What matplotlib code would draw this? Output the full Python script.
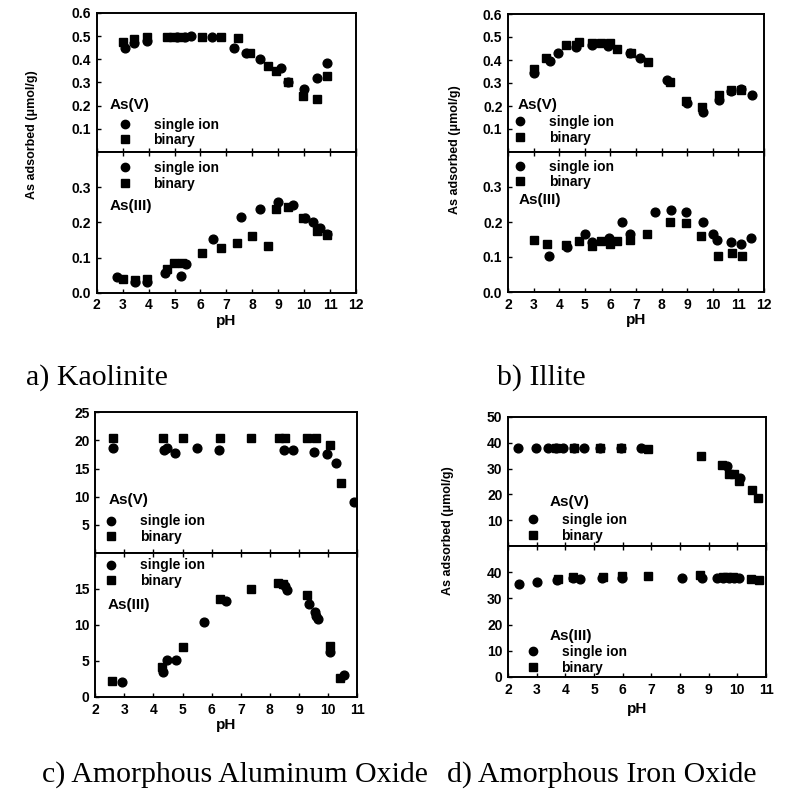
import matplotlib
matplotlib.use("Agg")
import matplotlib.pyplot as plt
from matplotlib.lines import Line2D

plt.rcParams['font.family'] = 'Liberation Sans'
plt.rcParams['font.weight'] = 'bold'
plt.rcParams['font.size'] = 10

# ---- a) Kaolinite ----
KAO_V_SI_PH = [3.07, 3.42, 3.93, 5.1, 5.4, 5.62, 6.45, 7.28, 7.77, 8.29, 9.09, 9.36, 10.0, 10.48, 10.89]
KAO_V_SI = [0.45, 0.471, 0.478, 0.497, 0.497, 0.498, 0.497, 0.449, 0.428, 0.399, 0.362, 0.301, 0.272, 0.32, 0.384]
KAO_V_BI_PH = [3.0, 3.42, 3.93, 4.7, 4.95, 5.25, 6.05, 6.8, 7.43, 7.9, 8.6, 8.93, 9.36, 9.94, 10.48, 10.87]
KAO_V_BI = [0.475, 0.487, 0.494, 0.497, 0.497, 0.497, 0.497, 0.497, 0.49, 0.428, 0.37, 0.348, 0.3, 0.243, 0.229, 0.326]

KAO_III_SI_PH = [2.77, 3.46, 3.93, 4.65, 5.26, 5.45, 6.48, 7.58, 8.29, 8.99, 9.58, 10.03, 10.35, 10.6, 10.87]
KAO_III_SI = [0.044, 0.030, 0.030, 0.057, 0.047, 0.082, 0.153, 0.216, 0.237, 0.257, 0.25, 0.213, 0.2, 0.184, 0.166]
KAO_III_BI_PH = [3.0, 3.46, 3.93, 4.71, 4.96, 5.3, 6.07, 6.8, 7.41, 7.99, 8.61, 8.93, 9.36, 9.96, 10.48, 10.87]
KAO_III_BI = [0.04, 0.035, 0.038, 0.068, 0.085, 0.085, 0.114, 0.128, 0.142, 0.161, 0.132, 0.237, 0.244, 0.213, 0.175, 0.163]

# ---- b) Illite ----
ILL_V_SI_PH = [3.0, 3.64, 3.94, 4.65, 5.27, 5.92, 6.78, 7.17, 8.21, 9.0, 9.63, 10.24, 10.7, 11.12, 11.52]
ILL_V_SI = [0.342, 0.396, 0.432, 0.458, 0.466, 0.46, 0.432, 0.408, 0.313, 0.214, 0.173, 0.228, 0.265, 0.274, 0.247]
ILL_V_BI_PH = [3.0, 3.49, 4.26, 4.65, 4.78, 5.27, 5.62, 5.97, 6.27, 6.82, 7.45, 8.34, 8.97, 9.57, 10.24, 10.7, 11.1]
ILL_V_BI = [0.36, 0.41, 0.466, 0.466, 0.479, 0.476, 0.472, 0.472, 0.45, 0.43, 0.392, 0.304, 0.221, 0.196, 0.25, 0.268, 0.268]

ILL_III_SI_PH = [3.6, 4.29, 5.01, 5.3, 5.95, 6.46, 6.78, 7.73, 8.36, 8.97, 9.62, 10.0, 10.17, 10.7, 11.1, 11.5]
ILL_III_SI = [0.102, 0.13, 0.165, 0.143, 0.155, 0.2, 0.167, 0.23, 0.235, 0.23, 0.199, 0.165, 0.15, 0.142, 0.138, 0.155]
ILL_III_BI_PH = [3.0, 3.52, 4.26, 4.78, 5.3, 5.62, 5.97, 6.27, 6.78, 7.43, 8.34, 8.94, 9.52, 10.2, 10.75, 11.13]
ILL_III_BI = [0.15, 0.138, 0.133, 0.147, 0.131, 0.145, 0.138, 0.147, 0.15, 0.165, 0.2, 0.197, 0.16, 0.102, 0.112, 0.102]

# ---- c) Amorphous aluminum oxide ----
ALO_V_SI_PH = [2.6, 4.36, 4.46, 4.73, 5.51, 6.25, 8.49, 8.81, 9.5, 9.96, 10.27, 10.88]
ALO_V_SI = [18.6, 18.35, 18.7, 17.8, 18.7, 18.35, 18.35, 18.35, 17.9, 17.6, 16.0, 9.1]
ALO_V_BI_PH = [2.6, 4.32, 5.01, 6.28, 7.34, 8.33, 8.52, 9.27, 9.6, 10.06, 10.45]
ALO_V_BI = [20.5, 20.5, 20.5, 20.5, 20.5, 20.5, 20.5, 20.5, 20.5, 19.2, 12.5]

ALO_III_SI_PH = [2.92, 4.32, 4.46, 4.76, 5.74, 6.49, 8.52, 8.58, 9.36, 9.56, 9.6, 9.64, 10.08, 10.56]
ALO_III_SI = [2.1, 3.45, 5.2, 5.07, 10.4, 13.4, 15.4, 14.8, 12.9, 11.75, 11.3, 10.9, 6.3, 3.1]
ALO_III_BI_PH = [2.58, 4.3, 5.01, 6.28, 7.34, 8.29, 8.46, 9.27, 10.06, 10.4]
ALO_III_BI = [2.2, 4.2, 6.9, 13.6, 15.0, 15.9, 15.7, 14.1, 7.1, 2.6]

# ---- d) Amorphous iron oxide ----
FEO_V_SI_PH = [2.36, 2.97, 3.38, 3.68, 3.91, 4.29, 4.64, 5.22, 5.93, 6.63, 9.63, 10.1]
FEO_V_SI = [38.1, 38.1, 38.1, 38.1, 38.1, 38.1, 38.1, 38.1, 38.1, 38.1, 31.0, 26.2]
FEO_V_BI_PH = [3.68, 4.29, 5.22, 5.93, 6.9, 8.72, 9.48, 9.71, 9.87, 10.07, 10.5, 10.73]
FEO_V_BI = [38.1, 38.1, 38.1, 38.1, 37.7, 34.9, 31.4, 27.8, 27.8, 25.3, 21.7, 18.5]

FEO_III_SI_PH = [2.39, 3.0, 3.71, 4.28, 4.5, 5.27, 5.96, 8.07, 8.75, 9.3, 9.5, 9.7, 9.9, 10.07]
FEO_III_SI = [35.4, 36.3, 37.1, 37.6, 37.3, 37.8, 37.9, 37.9, 37.9, 37.8, 37.9, 37.9, 37.9, 37.6]
FEO_III_BI_PH = [3.75, 4.28, 5.32, 5.96, 6.9, 8.69, 9.5, 9.65, 9.85, 10.48, 10.77]
FEO_III_BI = [37.5, 38.0, 38.1, 38.4, 38.4, 38.75, 38.0, 38.0, 38.0, 37.5, 36.9]

LABELS = ["single ion", "binary"]
YLABEL = "As adsorbed (\u03bcmol/g)"


def style_axes(ax, xlim, ylim, yticks, yfmt):
    ax.set_xlim(xlim)
    ax.set_ylim(ylim)
    ax.set_xticks(range(int(xlim[0]), int(xlim[1]) + 1))
    ax.set_yticks(yticks)
    ax.set_yticklabels([yfmt % v for v in yticks])
    ax.tick_params(direction='in', length=3, width=1, labelsize=10, pad=4)
    for s in ax.spines.values():
        s.set_linewidth(1.4)


def draw_key(ax, title, tx, ty, lx, ly):
    handles = [Line2D([], [], marker='o', ls='', color='k', ms=6),
               Line2D([], [], marker='s', ls='', color='k', ms=6)]
    ax.legend(handles, LABELS, loc='center left', bbox_to_anchor=(lx, ly),
              frameon=False, borderpad=0, borderaxespad=0, handlelength=0.6,
              handletextpad=1.75, labelspacing=0.1,
              prop={'weight': 'bold', 'size': 10})
    ax.text(tx, ty, title, transform=ax.transAxes, ha='left', va='center',
            fontsize=11, fontweight='bold')


def panel(fig, left, width, top_rect, bot_rect, xlim, top, bot):
    ax1 = fig.add_axes([left, top_rect[0], width, top_rect[1]])
    ax2 = fig.add_axes([left, bot_rect[0], width, bot_rect[1]])
    for ax, d in ((ax1, top), (ax2, bot)):
        ax.plot(d['si'][0], d['si'][1], 'o', color='k', ms=6.3)
        ax.plot(d['bi'][0], d['bi'][1], 's', color='k', ms=6.3)
        style_axes(ax, xlim, d['ylim'], d['yticks'], d['fmt'])
        draw_key(ax, d['title'], *d['key'])
    ax1.tick_params(labelbottom=False)
    ax2.tick_params(top=True)
    ax2.set_xlabel("pH", fontsize=11, fontweight='bold', labelpad=1)
    return ax1, ax2


fig = plt.figure(figsize=(8, 8), dpi=100)

# a) Kaolinite
a1, a2 = panel(fig, 0.121, 0.324, (0.81, 0.174), (0.634, 0.176), (2, 12),
               dict(si=(KAO_V_SI_PH, KAO_V_SI), bi=(KAO_V_BI_PH, KAO_V_BI),
                    ylim=(0, 0.6), yticks=[0.1, 0.2, 0.3, 0.4, 0.5, 0.6], fmt='%.1f',
                    title="As(V)", key=(0.05, 0.34, 0.093, 0.14)),
               dict(si=(KAO_III_SI_PH, KAO_III_SI), bi=(KAO_III_BI_PH, KAO_III_BI),
                    ylim=(0, 0.4), yticks=[0.0, 0.1, 0.2, 0.3], fmt='%.1f',
                    title="As(III)", key=(0.05, 0.62, 0.093, 0.83)))
fig.text(0.04, 1 - 135 / 800, YLABEL, rotation=90, ha='center', va='center',
         fontsize=9, fontweight='bold')

# b) Illite
b1, b2 = panel(fig, 0.635, 0.32, (0.81, 0.1725), (0.635, 0.175), (2, 12),
               dict(si=(ILL_V_SI_PH, ILL_V_SI), bi=(ILL_V_BI_PH, ILL_V_BI),
                    ylim=(0, 0.6), yticks=[0.1, 0.2, 0.3, 0.4, 0.5, 0.6], fmt='%.1f',
                    title="As(V)", key=(0.039, 0.34, 0.031, 0.16)),
               dict(si=(ILL_III_SI_PH, ILL_III_SI), bi=(ILL_III_BI_PH, ILL_III_BI),
                    ylim=(0, 0.4), yticks=[0.0, 0.1, 0.2, 0.3], fmt='%.1f',
                    title="As(III)", key=(0.043, 0.66, 0.031, 0.84)))
fig.text(455 / 800, 1 - 150 / 800, YLABEL, rotation=90, ha='center', va='center',
         fontsize=9, fontweight='bold')

# c) Amorphous aluminum oxide
c1, c2 = panel(fig, 0.119, 0.3275, (0.30875, 0.176), (0.12875, 0.18), (2, 11),
               dict(si=(ALO_V_SI_PH, ALO_V_SI), bi=(ALO_V_BI_PH, ALO_V_BI),
                    ylim=(0, 25), yticks=[5, 10, 15, 20, 25], fmt='%d',
                    title="As(V)", key=(0.05, 0.376, 0.046, 0.17)),
               dict(si=(ALO_III_SI_PH, ALO_III_SI), bi=(ALO_III_BI_PH, ALO_III_BI),
                    ylim=(0, 20), yticks=[0, 5, 10, 15], fmt='%d',
                    title="As(III)", key=(0.046, 0.64, 0.046, 0.86)))

# d) Amorphous iron oxide
d1, d2 = panel(fig, 0.635, 0.3225, (0.3175, 0.16125), (0.15375, 0.16375), (2, 11),
               dict(si=(FEO_V_SI_PH, FEO_V_SI), bi=(FEO_V_BI_PH, FEO_V_BI),
                    ylim=(0, 50), yticks=[10, 20, 30, 40, 50], fmt='%d',
                    title="As(V)", key=(0.163, 0.34, 0.081, 0.14)),
               dict(si=(FEO_III_SI_PH, FEO_III_SI), bi=(FEO_III_BI_PH, FEO_III_BI),
                    ylim=(0, 50), yticks=[0, 10, 20, 30, 40], fmt='%d',
                    title="As(III)", key=(0.163, 0.31, 0.081, 0.13)))
d2.xaxis.labelpad = 4
fig.text(448 / 800, 1 - 531 / 800, YLABEL, rotation=90, ha='center', va='center',
         fontsize=9, fontweight='bold')

# captions under each pair
cap = dict(fontsize=21.5, family='Liberation Serif', fontweight='normal', va='center', ha='left')
fig.text(26 / 800, 1 - 378 / 800, "a) Kaolinite", **cap)
fig.text(497 / 800, 1 - 378 / 800, "b) Illite", **cap)
fig.text(42 / 800, 1 - 775 / 800, "c) Amorphous Aluminum Oxide", **cap)
fig.text(447 / 800, 1 - 775 / 800, "d) Amorphous Iron Oxide", **cap)

fig.savefig("out.png", dpi=100)
